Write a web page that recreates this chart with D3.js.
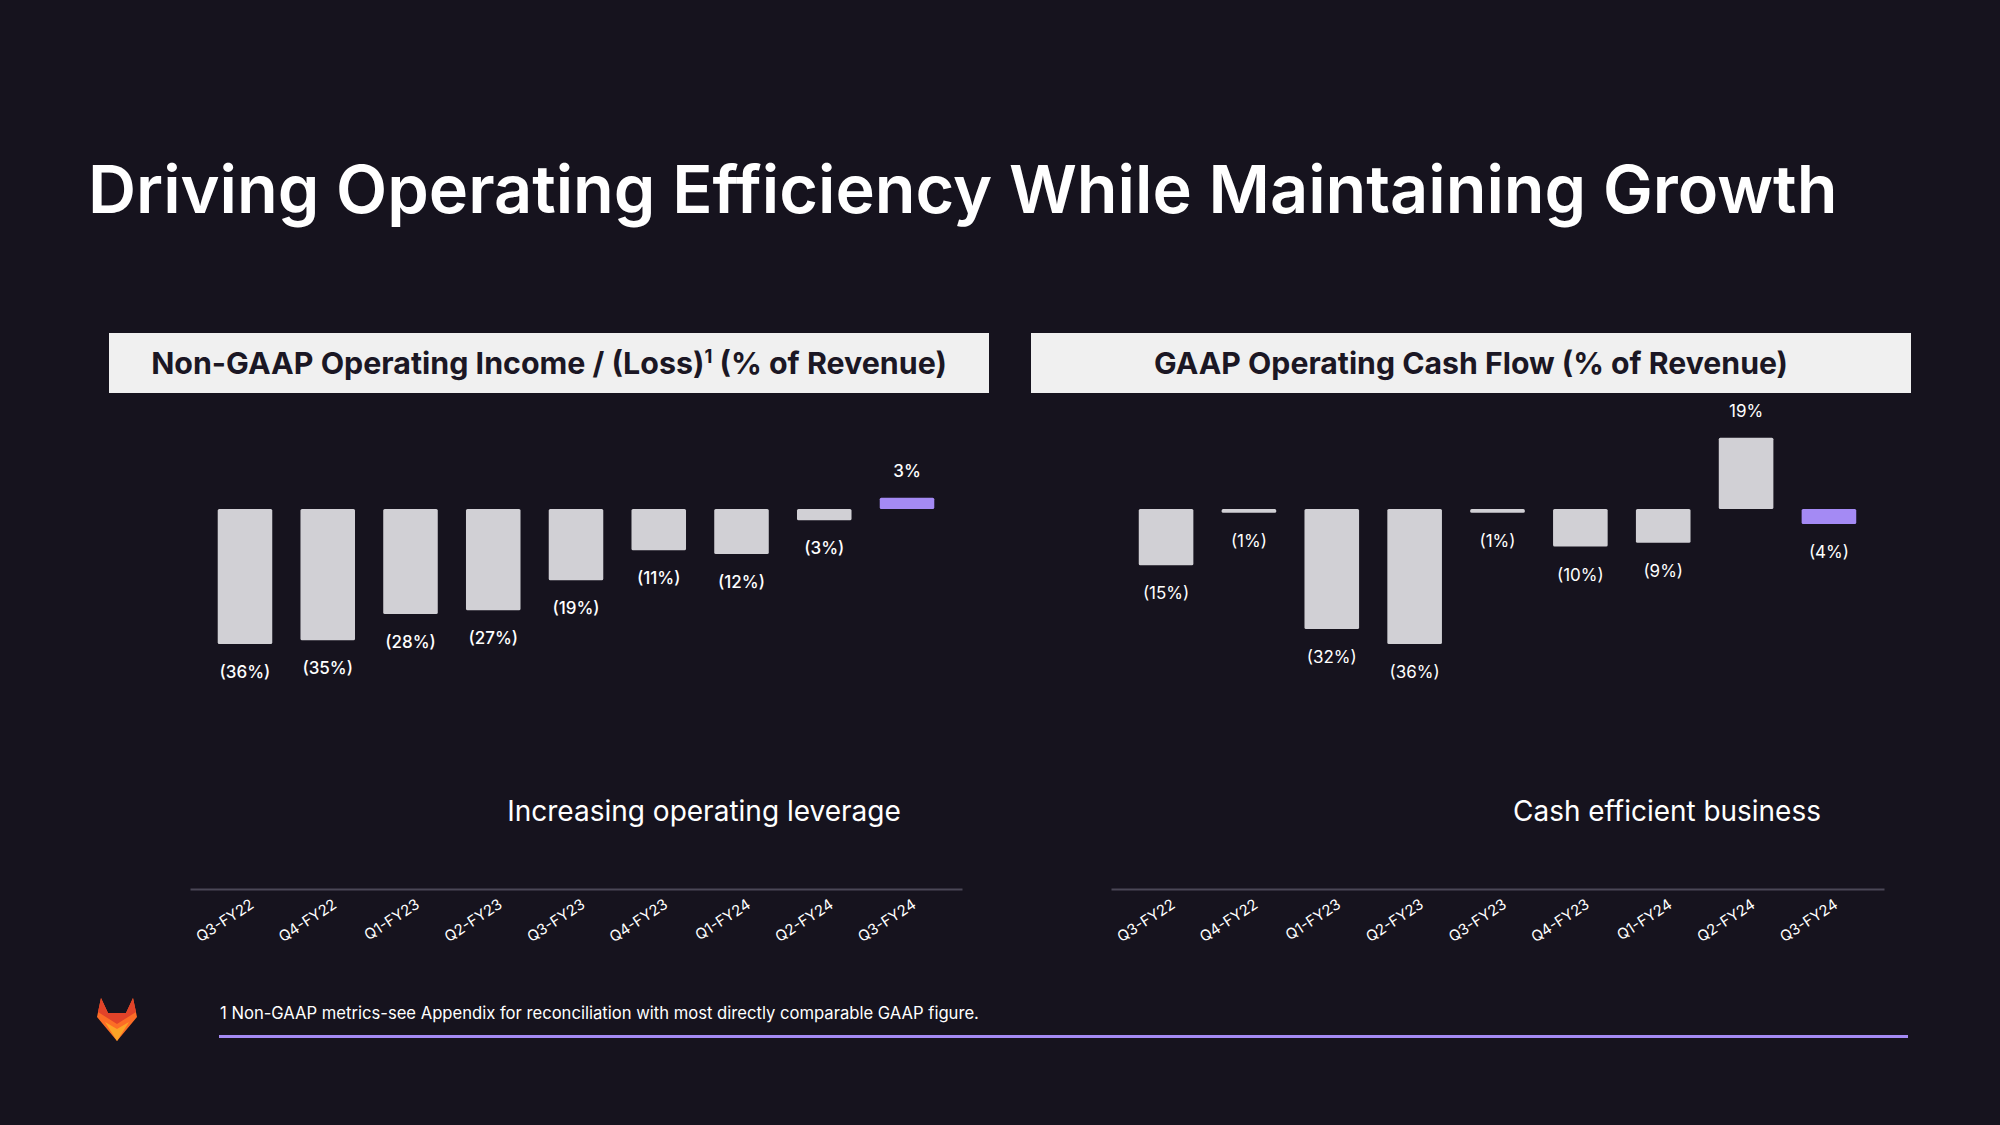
<!DOCTYPE html>
<html>
<head>
<meta charset="utf-8">
<script src="https://cdn.jsdelivr.net/npm/d3@7"></script>
<style>
  html, body { margin: 0; padding: 0; background: #16131e; }
  svg { display: block; }
  text { font-family: Inter, "Noto Sans", sans-serif; }
</style>
</head>
<body>
<svg id="chart" width="2000" height="1125"></svg>
<script>
// ---------- data ----------
const categories = ["Q3-FY22","Q4-FY22","Q1-FY23","Q2-FY23","Q3-FY23","Q4-FY23","Q1-FY24","Q2-FY24","Q3-FY24"];
const opIncome = [-36, -35, -28, -27, -19, -11, -12, -3, 3];
const opIncomeLabels = ["(36%)","(35%)","(28%)","(27%)","(19%)","(11%)","(12%)","(3%)","3%"];
const cashFlow = [-15, -1, -32, -36, -1, -10, -9, 19, -4];
const cashFlowLabels = ["(15%)","(1%)","(32%)","(36%)","(1%)","(10%)","(9%)","19%","(4%)"];
const titleText = "Driving Operating Efficiency While Maintaining Growth";
const panelTitles = ["Non-GAAP Operating Income / (Loss)", "GAAP Operating Cash Flow (% of Revenue)"];
const panelNotes = ["Increasing operating leverage", "Cash efficient business"];
const footnote = "1 Non-GAAP metrics-see Appendix for reconciliation with most directly comparable GAAP figure.";

// ---------- style ----------
const BG = "#16131e", BAR = "#d1d0d5", HILITE = "#a48af4", HEADER_BG = "#f0f0f0",
      HEADER_TXT = "#1b1724", AXIS = "#4a4756", WHITE = "#ffffff";

const svg = d3.select("#chart");
svg.append("rect").attr("width", 2000).attr("height", 1125).attr("fill", BG);

function fit(sel, target) {
  const w = sel.node().getComputedTextLength();
  const fs = parseFloat(sel.attr("font-size"));
  sel.attr("font-size", fs * target / w);
}

// title
const t = svg.append("text").attr("x", 88).attr("y", 213)
  .attr("fill", WHITE).attr("font-size", 69).attr("font-weight", 600).text(titleText);
fit(t, 1750);

const y = d3.scaleLinear().domain([-36, 19]).range([644, 644 - 55 * 3.75]);

const panels = [
  { box: [109, 989], axis: [190, 962], values: opIncome, labels: opIncomeLabels, labelWeight: 500,
    title: panelTitles[0], titleW: 796, note: panelNotes[0], noteX: 704, noteW: 394, sup: true },
  { box: [1031, 1911], axis: [1111, 1884], values: cashFlow, labels: cashFlowLabels, labelWeight: 400,
    title: panelTitles[1], titleW: 634, note: panelNotes[1], noteX: 1667, noteW: 308, sup: false }
];

panels.forEach(p => {
  const g = svg.append("g");
  // header
  g.append("rect").attr("x", p.box[0]).attr("y", 333).attr("width", p.box[1] - p.box[0]).attr("height", 60)
    .attr("fill", HEADER_BG);
  const ht = g.append("text").attr("x", (p.box[0] + p.box[1]) / 2).attr("y", 373.5)
    .attr("text-anchor", "middle").attr("fill", HEADER_TXT).attr("font-size", 29).attr("font-weight", 700);
  ht.append("tspan").text(p.title);
  if (p.sup) {
    ht.append("tspan").attr("font-size", "0.6em").attr("dy", -11).text("1");
    ht.append("tspan").attr("dy", 11).text(" (% of Revenue)");
  }
  fit(ht, p.titleW);

  const x = d3.scaleBand().domain(categories).range(p.axis).paddingInner(0.341).paddingOuter(0.335);

  const data = categories.map((c, i) => ({ c, v: p.values[i], l: p.labels[i], last: i === categories.length - 1 }));

  g.selectAll("rect.bar").data(data).join("rect").attr("class", "bar")
    .attr("x", d => x(d.c)).attr("width", x.bandwidth())
    .attr("y", d => y(Math.max(0, d.v))).attr("height", d => Math.abs(y(d.v) - y(0)))
    .attr("rx", 1.5)
    .attr("fill", d => d.last ? HILITE : BAR);

  g.selectAll("text.val").data(data).join("text").attr("class", "val")
    .attr("x", d => x(d.c) + x.bandwidth() / 2)
    .attr("y", d => d.v < 0 ? y(d.v) + 34 : y(d.v) - 21)
    .attr("text-anchor", "middle").attr("fill", WHITE)
    .attr("font-size", 17).attr("font-weight", p.labelWeight).text(d => d.l);

  // note
  const nt = g.append("text").attr("x", p.noteX).attr("y", 821).attr("text-anchor", "middle")
    .attr("fill", WHITE).attr("font-size", 26).text(p.note);
  fit(nt, p.noteW);

  // axis
  const ax = g.append("g").attr("transform", "translate(0,889)")
    .call(d3.axisBottom(x).tickSize(0).tickSizeOuter(0).tickPadding(0));
  ax.select(".domain").attr("stroke", AXIS).attr("stroke-width", 2);
  ax.selectAll(".tick text")
    .attr("font-family", "'Liberation Sans', Arial, sans-serif")
    .attr("font-size", 15).attr("fill", WHITE)
    .attr("text-anchor", "end")
    .attr("dy", 0).attr("y", 0)
    .attr("transform", "translate(10,18) rotate(-33)");
});

// footnote
const fn = svg.append("text").attr("x", 220).attr("y", 1019).attr("fill", WHITE)
  .attr("font-size", 17).text(footnote);
fit(fn, 759);
svg.append("line").attr("x1", 219).attr("x2", 1908).attr("y1", 1036.5).attr("y2", 1036.5)
  .attr("stroke", HILITE).attr("stroke-width", 3);

// logo (GitLab tanuki)
const logo = svg.append("g").attr("transform", "translate(97,998)");
logo.append("path").attr("d", "M4,0 L11,15 L29,15 L36,0 L40,19 L20,43 L0,19 Z").attr("fill", "#fc6d26");
logo.append("path").attr("d", "M4,0 L11,15 L29,15 L36,0 L39,14 L20,26 L1,14 Z").attr("fill", "#e24329");
logo.append("path").attr("d", "M8,24 L20,31 L32,24 L20,43 Z").attr("fill", "#fca326");
</script>
</body>
</html>
